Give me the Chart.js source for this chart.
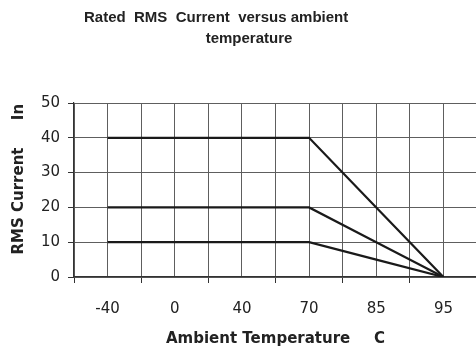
<!DOCTYPE html>
<html>
<head>
<meta charset="utf-8">
<script src="https://cdn.jsdelivr.net/npm/chart.js@4/dist/chart.umd.min.js"></script>
<style>
html,body{margin:0;padding:0;background:#fff;}
canvas{display:block;}
</style>
</head>
<body>
<canvas id="c" width="476" height="348"></canvas>
<script>
const categories = ['-40', '0', '40', '70', '85', '95'];
const rated40 = [40, 40, 40, 40, 20, 0];
const rated20 = [20, 20, 20, 20, 10, 0];
const rated10 = [10, 10, 10, 10, 5, 0];
const yTicks = [0, 10, 20, 30, 40, 50];
const chartTitle = ['Rated  RMS  Current  versus ambient', 'temperature'];
const yTitle = ['RMS Current', 'In'];
const xTitle = ['Ambient Temperature', 'C'];

function toPoints(arr) { return arr.map((v, i) => ({x: i, y: v})); }
const lineStyle = {borderColor: '#1a1a1a', borderWidth: 2.2, pointRadius: 0, tension: 0, fill: false};

const textPlugin = {
  id: 'texts',
  afterDraw(chart) {
    const ctx = chart.ctx;
    ctx.save();
    ctx.fillStyle = '#222';
    ctx.textBaseline = 'alphabetic';
    ctx.font = 'bold 15px "Liberation Sans"';
    ctx.textAlign = 'left';
    ctx.fillText(chartTitle[0], 84, 22);
    ctx.textAlign = 'center';
    ctx.fillText(chartTitle[1], 249, 43);
    ctx.font = 'bold 15px "DejaVu Sans"';
    ctx.textAlign = 'left';
    ctx.fillText(xTitle[0], 166, 343);
    ctx.textAlign = 'right';
    ctx.fillText(xTitle[1], 385, 343);
    ctx.translate(19, 0);
    ctx.rotate(-Math.PI / 2);
    ctx.textAlign = 'center';
    ctx.textBaseline = 'middle';
    ctx.fillText(yTitle[0], -201, 0);
    ctx.fillText(yTitle[1], -112, 0);
    ctx.restore();
  }
};
const bgPlugin = {
  id: 'bg',
  beforeDraw(chart) {
    const ctx = chart.ctx;
    ctx.save(); ctx.fillStyle = '#fff'; ctx.fillRect(0, 0, chart.width, chart.height); ctx.restore();
  }
};

new Chart(document.getElementById('c'), {
  type: 'line',
  data: {
    datasets: [
      Object.assign({label: '40', data: toPoints(rated40)}, lineStyle),
      Object.assign({label: '20', data: toPoints(rated20)}, lineStyle),
      Object.assign({label: '10', data: toPoints(rated10)}, lineStyle)
    ]
  },
  options: {
    responsive: false,
    animation: false,
    layout: {padding: {top: 103, left: 0, right: 0, bottom: 0}},
    plugins: {legend: {display: false}, title: {display: false}, tooltip: {enabled: false}},
    scales: {
      x: {
        type: 'linear',
        min: -0.5,
        max: 5.485,
        afterFit(s) { s.height = 71; },
        border: {display: true, color: '#333', width: 1.2},
        grid: {
          color: '#5e5e5e',
          lineWidth: 1,
          drawTicks: true,
          tickLength: 6,
          tickColor: (c) => (c.tick && !Number.isInteger(c.tick.value)) ? '#333' : 'rgba(0,0,0,0)'
        },
        ticks: {
          stepSize: 0.5,
          includeBounds: false,
          autoSkip: false,
          maxRotation: 0,
          padding: 17,
          color: '#222',
          font: {family: '"DejaVu Sans"', size: 15},
          callback: (v) => Number.isInteger(v) ? categories[v] : ''
        }
      },
      y: {
        type: 'linear',
        min: yTicks[0],
        max: yTicks[yTicks.length - 1],
        afterFit(s) { s.width = 74; },
        border: {display: true, color: '#333', width: 1.2},
        grid: {color: '#5e5e5e', lineWidth: 1, tickLength: 6, tickColor: '#333'},
        ticks: {
          stepSize: 10,
          padding: 8,
          color: '#222',
          font: {family: '"DejaVu Sans"', size: 15}
        }
      }
    }
  },
  plugins: [bgPlugin, textPlugin]
});
</script>
</body>
</html>
